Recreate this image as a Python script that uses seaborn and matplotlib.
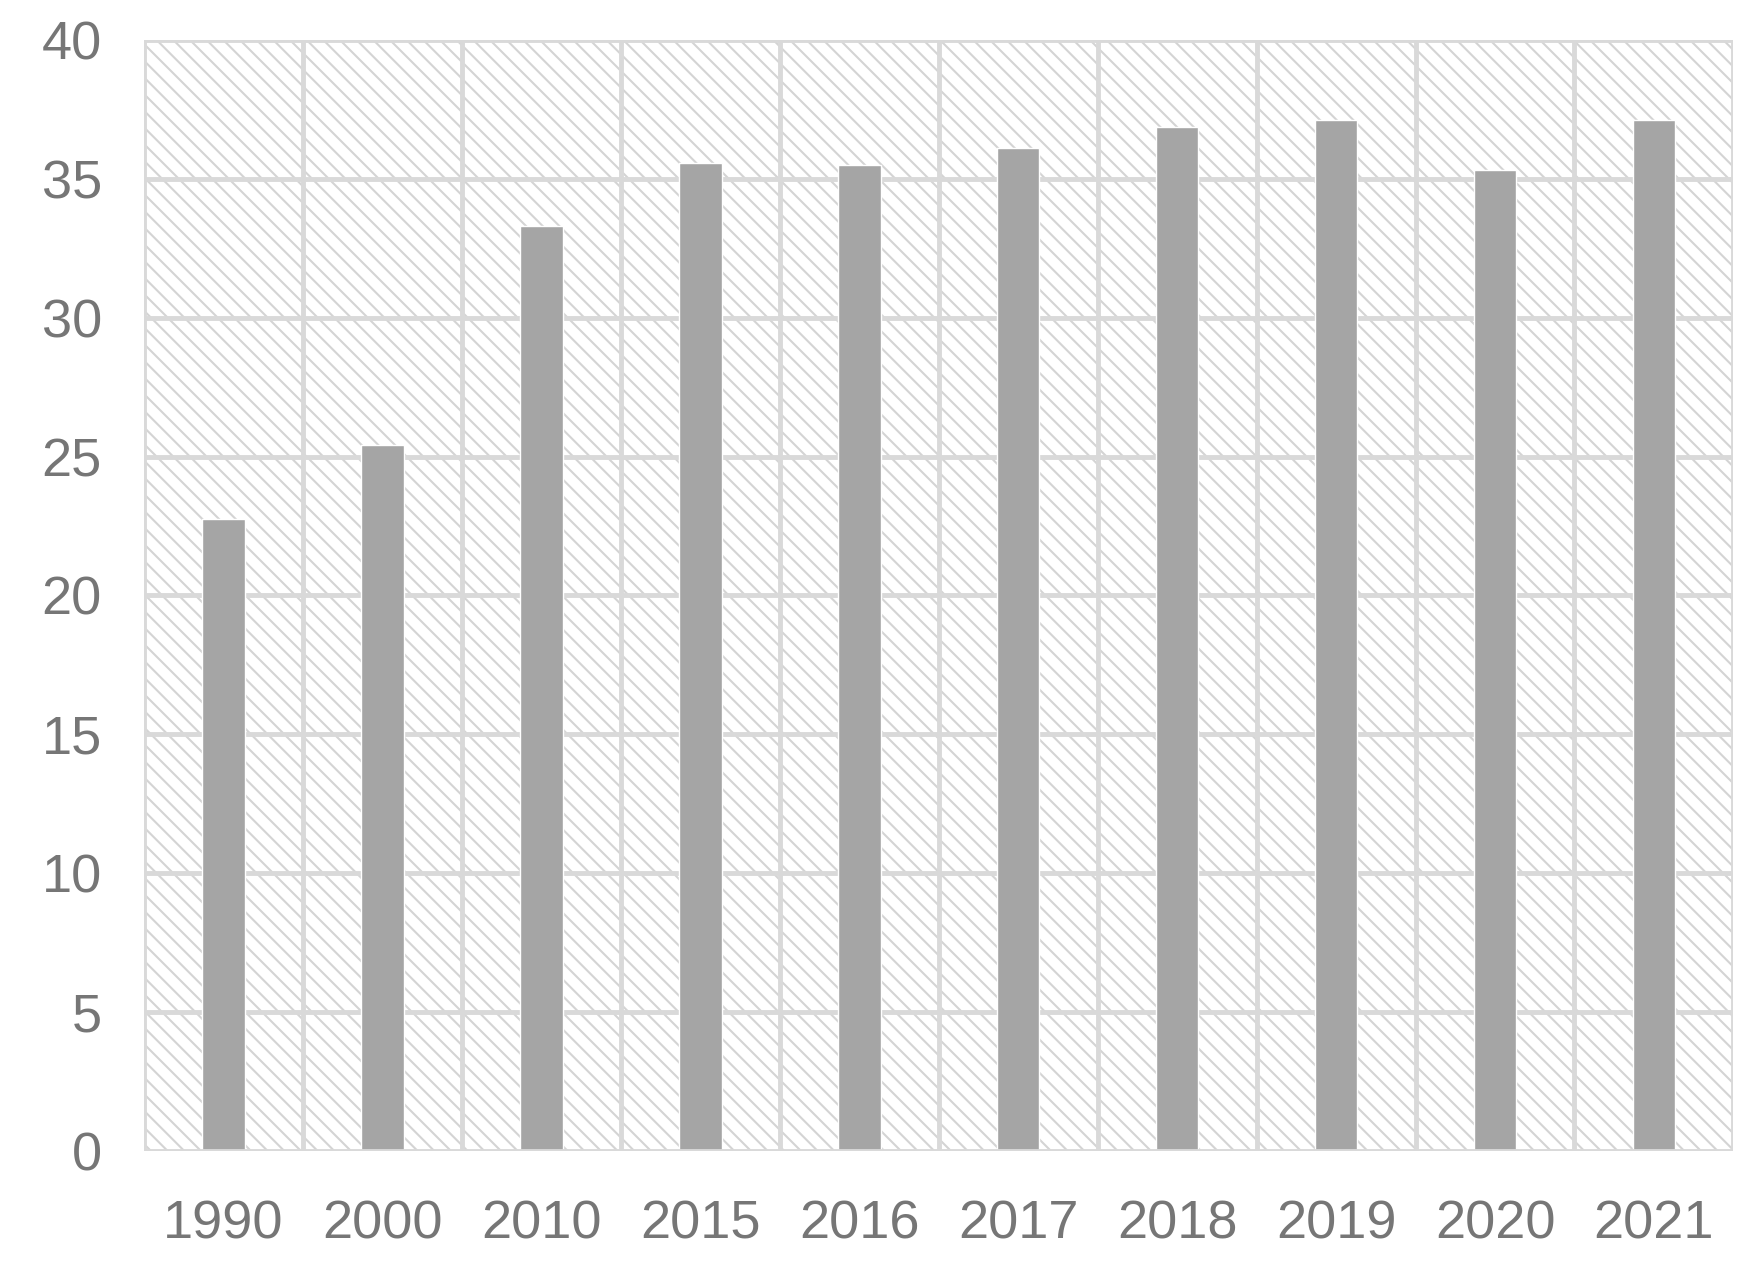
import matplotlib
matplotlib.use("Agg")
import matplotlib.pyplot as plt
import matplotlib.patches as mpatches
import pandas as pd
import seaborn as sns

years = ["1990", "2000", "2010", "2015", "2016", "2017", "2018", "2019", "2020", "2021"]
values = [22.75, 25.4, 33.3, 35.55, 35.5, 36.1, 36.85, 37.1, 35.3, 37.1]

sns.set_style("white")
plt.rcParams['font.family'] = ['Liberation Sans', 'DejaVu Sans']
plt.rcParams['hatch.color'] = '#d4d4d4'
plt.rcParams['hatch.linewidth'] = 1.5

df = pd.DataFrame({'year': years, 'value': values})

fig = plt.figure(figsize=(17.51, 12.82), dpi=100)
ax = fig.add_axes([0.082, 0.102, 0.908, 0.867])

# hatched background
bg = mpatches.Rectangle((0, 0), 1, 1, transform=ax.transAxes, facecolor='white',
                        edgecolor='#d4d4d4', hatch='\\\\', linewidth=0, zorder=0)
ax.add_patch(bg)

sns.barplot(data=df, x='year', y='value', color='#a5a5a5', width=0.27,
            saturation=1, ax=ax, zorder=3)

ax.set_ylim(0, 40)
ax.set_xlim(-0.5, len(years) - 0.5)
ax.set_yticks(range(0, 41, 5))
for y in range(5, 41, 5):
    ax.axhline(y, color='#d9d9d9', lw=3.5, zorder=2)
for x in range(len(years) + 1):
    ax.axvline(x - 0.5, color='#d9d9d9', lw=3.5, zorder=2)
ax.axhline(0, color='#d9d9d9', lw=3.5, zorder=4)

for s in ax.spines.values():
    s.set_visible(False)
ax.set_xlabel('')
ax.set_ylabel('')
ax.tick_params(axis='both', length=0, labelsize=39, colors='#767676')
ax.tick_params(axis='x', pad=35)
ax.tick_params(axis='y', pad=30)

fig.savefig('out.png', dpi=100)
